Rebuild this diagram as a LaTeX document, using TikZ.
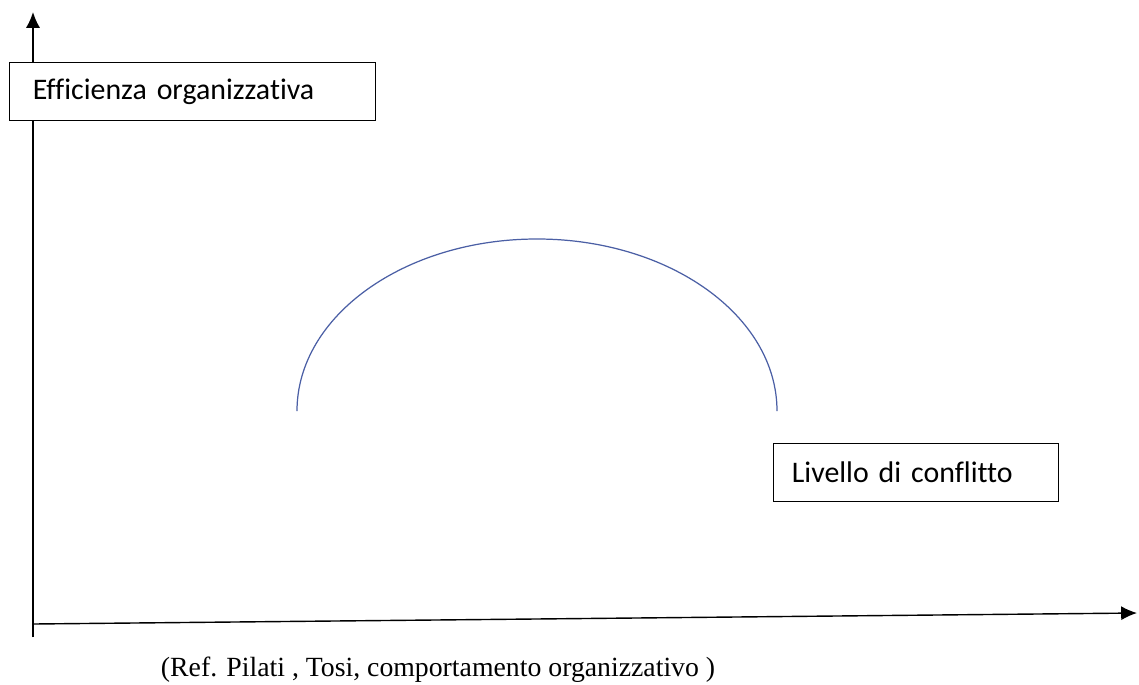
\documentclass[tikz,border=0pt]{standalone}
\usepackage{fontspec}
\setmainfont{Liberation Serif}
\newfontfamily\calibrifont[Ligatures=NoCommon]{Carlito}
\usepackage{tikz}
\usetikzlibrary{calc}
\usetikzlibrary{arrows.meta}

\definecolor{curveblue}{RGB}{75,95,165}

\begin{document}
\begin{tikzpicture}[x=0.02cm, y=-0.02cm,
    axis/.style={line width=0.8pt, -{Latex[length=9pt, width=8pt]}},
    labelbox/.style={draw, line width=0.8pt, rectangle, inner sep=0, anchor=north west, font=\calibrifont\fontsize{17}{19}\selectfont, align=left},
    curve/.style={line width=0.7pt, draw=curveblue}]
        \useasboundingbox (0,0) rectangle (1139,684);

        \coordinate (origin) at (33,637);
        \coordinate (ytip) at (33,12);
        \coordinate (xleft) at (33,624);
        \coordinate (xtip) at (1137,613);

        \draw [line width=0.8pt] (origin) -- (xleft);
        \draw [axis] (xleft) -- (xtip);
        \draw [axis] (origin) -- (ytip);

        \node [labelbox, fill=white, minimum width=366*0.02cm, minimum height=58*0.02cm, text width=355*0.02cm] (efficienza) at (9,62) {\hspace*{10pt}Efficienza organizzativa};
        \node [labelbox, minimum width=285*0.02cm, minimum height=58*0.02cm, text width=275*0.02cm] (livello) at (773,443) {\hspace*{7.5pt}Livello di conflitto};

        \coordinate (start) at (297,411);
        \draw [curve] (start) arc [start angle=180, end angle=0, x radius=240, y radius=-172];

        \node [font=\fontsize{15.8}{18}\selectfont] (ref) at (438,670) {(Ref. Pilati , Tosi, comportamento organizzativo )};
      \end{tikzpicture}
\end{document}
